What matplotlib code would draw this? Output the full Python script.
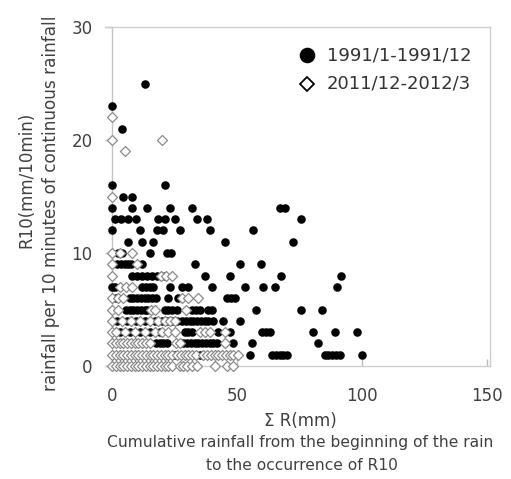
import matplotlib
matplotlib.use("Agg")
import matplotlib.pyplot as plt
from matplotlib.lines import Line2D

# ---------------- data (R10 level -> list of cumulative rainfall values) ----------------
label_1991 = "1991/1-1991/12"
label_2011 = "2011/12-2012/3"

rows_1991 = {
    25: [13],
    23: [0],
    21: [4],
    16: [0, 21],
    15: [4.5, 8],
    14: [0, 8, 14, 23, 32, 67, 69],
    13: [1, 3.5, 6.5, 9.5, 18.5, 21, 25, 34, 38, 75.5],
    12: [0, 11, 18, 20.5, 27, 39, 56.5],
    11: [6.5, 12, 16.5, 45, 72.5],
    10: [2.5, 4, 15, 22, 23.5],
    9: [2, 3.5, 5, 6.5, 7.5, 12, 33, 51, 59.5],
    8: [8, 10, 12, 14, 16, 18, 21, 37, 47, 67.5, 91.5],
    7: [0, 1, 12, 13.5, 15, 16.5, 23, 28, 30.5, 40, 53, 60.5, 65, 90],
    6: [1.5, 7, 8.5, 10, 11.5, 13, 14.5, 16, 17.5, 22.5, 26.5, 46, 47.5, 49],
    5: [5.5, 7, 8.5, 10, 11.5, 13, 14, 21, 22.5, 24, 26, 32, 33.5, 35, 38.5, 40,
        57.5, 75.5, 84],
    4: [2, 6, 9.5, 13, 17, 20, 22, 24, 26, 28, 29.5, 31, 32.5, 34, 35.5, 37, 38.5,
        40.5, 44.5, 51],
    3: [3, 7, 11, 15, 19, 29, 30.5, 32, 42.5, 47, 60, 61.5, 63, 80.5, 89, 98],
    2: [17.5, 19, 20.5, 22, 28.5, 30, 31.5, 33, 34.5, 36, 37.5, 39, 40.5, 42,
        48.5, 56, 82.5],
    1: [25, 35, 55, 64, 65.5, 67, 68.5, 70, 85, 86.5, 88, 89.5, 91, 100],
}

rows_2011 = {
    22: [0],
    20: [0, 20],
    19: [5],
    15: [0],
    10: [0, 3, 8],
    9: [0, 10],
    8: [0, 19.5, 21.5, 24],
    7: [3, 5.5, 8],
    6: [0, 2.5, 4.5, 28, 30.5, 34.5],
    5: [0, 2.5, 15.5, 17, 29.5],
    4: [0, 4, 7.5, 11, 15, 18.5, 21, 23, 25],
    3: [0, 1.5, 5, 9, 13, 17, 20, 22.5, 25, 35, 37, 39, 45],
    2: [0, 1.5, 3, 4.5, 6, 7.5, 9, 10.5, 12, 13.5, 15, 25.5, 27, 45],
    1: [0, 1.5, 3, 4.5, 6, 7.5, 9, 10.5, 12, 13.5, 15, 16.5, 18, 19.5, 21, 22.5,
        24, 26, 27.5, 29, 30.5, 32, 33.5, 36.5, 38, 39.5, 41, 42.5, 44, 45.5, 47,
        48.5, 50.5],
    0: [0, 1.5, 3, 4.5, 6, 7.5, 9, 10.5, 12, 13.5, 15, 16.5, 18, 19.5, 21, 22.5,
        24, 27, 28.5, 30, 32, 34, 41, 46, 48.5],
}

x_ticks = [0, 50, 100, 150]
y_ticks = [0, 10, 20, 30]


def flatten(rows):
    xs, ys = [], []
    for yv, xlist in rows.items():
        for xv in xlist:
            xs.append(xv)
            ys.append(yv)
    return xs, ys


x91, y91 = flatten(rows_1991)
x11, y11 = flatten(rows_2011)

# ---------------- figure ----------------
W, H = 511, 479
fig = plt.figure(figsize=(W / 100, H / 100), dpi=100)
fig.patch.set_facecolor("white")

L, R, T, B = 105, 490, 27, 366
ax = fig.add_axes([L / W, 1 - B / H, (R - L) / W, (B - T) / H])
ax.set_xlim(-2.8, 151.2)
ax.set_ylim(0, 30)

ax.scatter(x91, y91, s=38, marker="o", color="black", linewidths=0, zorder=3,
           clip_on=False)
ax.scatter(x11, y11, s=26, marker="D", facecolor="white", edgecolor="#8a8a8a",
           linewidths=0.9, zorder=4, clip_on=False)

frame_c = "#cfcfcf"
for side in ["top", "right", "bottom"]:
    ax.spines[side].set_color(frame_c)
    ax.spines[side].set_linewidth(1.0)
ax.spines["left"].set_position(("data", 0))
ax.spines["left"].set_color("#c4c4c4")
ax.spines["left"].set_linewidth(1.0)

ax.set_xticks(x_ticks)
ax.set_yticks(y_ticks)
ax.tick_params(axis="x", direction="in", length=5, width=1, color="#bdbdbd",
               pad=15, labelsize=12, labelcolor="#404040")
ax.tick_params(axis="y", direction="out", length=5, width=1, color="#bdbdbd",
               pad=9, labelsize=12, labelcolor="#404040")

# legend (drawn in figure pixel positions)
def fx(px):
    return px / W


def fy(py):
    return 1 - py / H


leg_rows = [(55, label_1991, "o", 11.2, "black", 0), (84, label_2011, "D", 7.6, "white", 1.3)]
for py, lab, mk, ms, fc, mew in leg_rows:
    fig.add_artist(Line2D([fx(307)], [fy(py)], marker=mk, markersize=ms,
                          markerfacecolor=fc, markeredgecolor="black",
                          markeredgewidth=mew, linestyle="none",
                          transform=fig.transFigure))
    fig.text(fx(327), fy(py), lab, ha="left", va="center", fontsize=13,
             color="#333333")

tc = "#404040"
fig.text(fx(300), fy(421), "Σ R(mm)", ha="center", va="center",
         fontsize=12, color=tc)
fig.text(fx(300), fy(443),
         "Cumulative rainfall from the beginning of the rain",
         ha="center", va="center", fontsize=11.2, color=tc)
fig.text(fx(302), fy(465), "to the occurrence of R10", ha="center",
         va="center", fontsize=11.2, color=tc)

fig.text(fx(26), fy(180), "R10(mm/10min)", ha="center", va="center",
         rotation=90, fontsize=12, color=tc)
fig.text(fx(51), fy(203), "rainfall per 10 minutes of continuous rainfall",
         ha="center", va="center", rotation=90, fontsize=12.2, color=tc)

fig.savefig("out.png", dpi=100, facecolor="white")
